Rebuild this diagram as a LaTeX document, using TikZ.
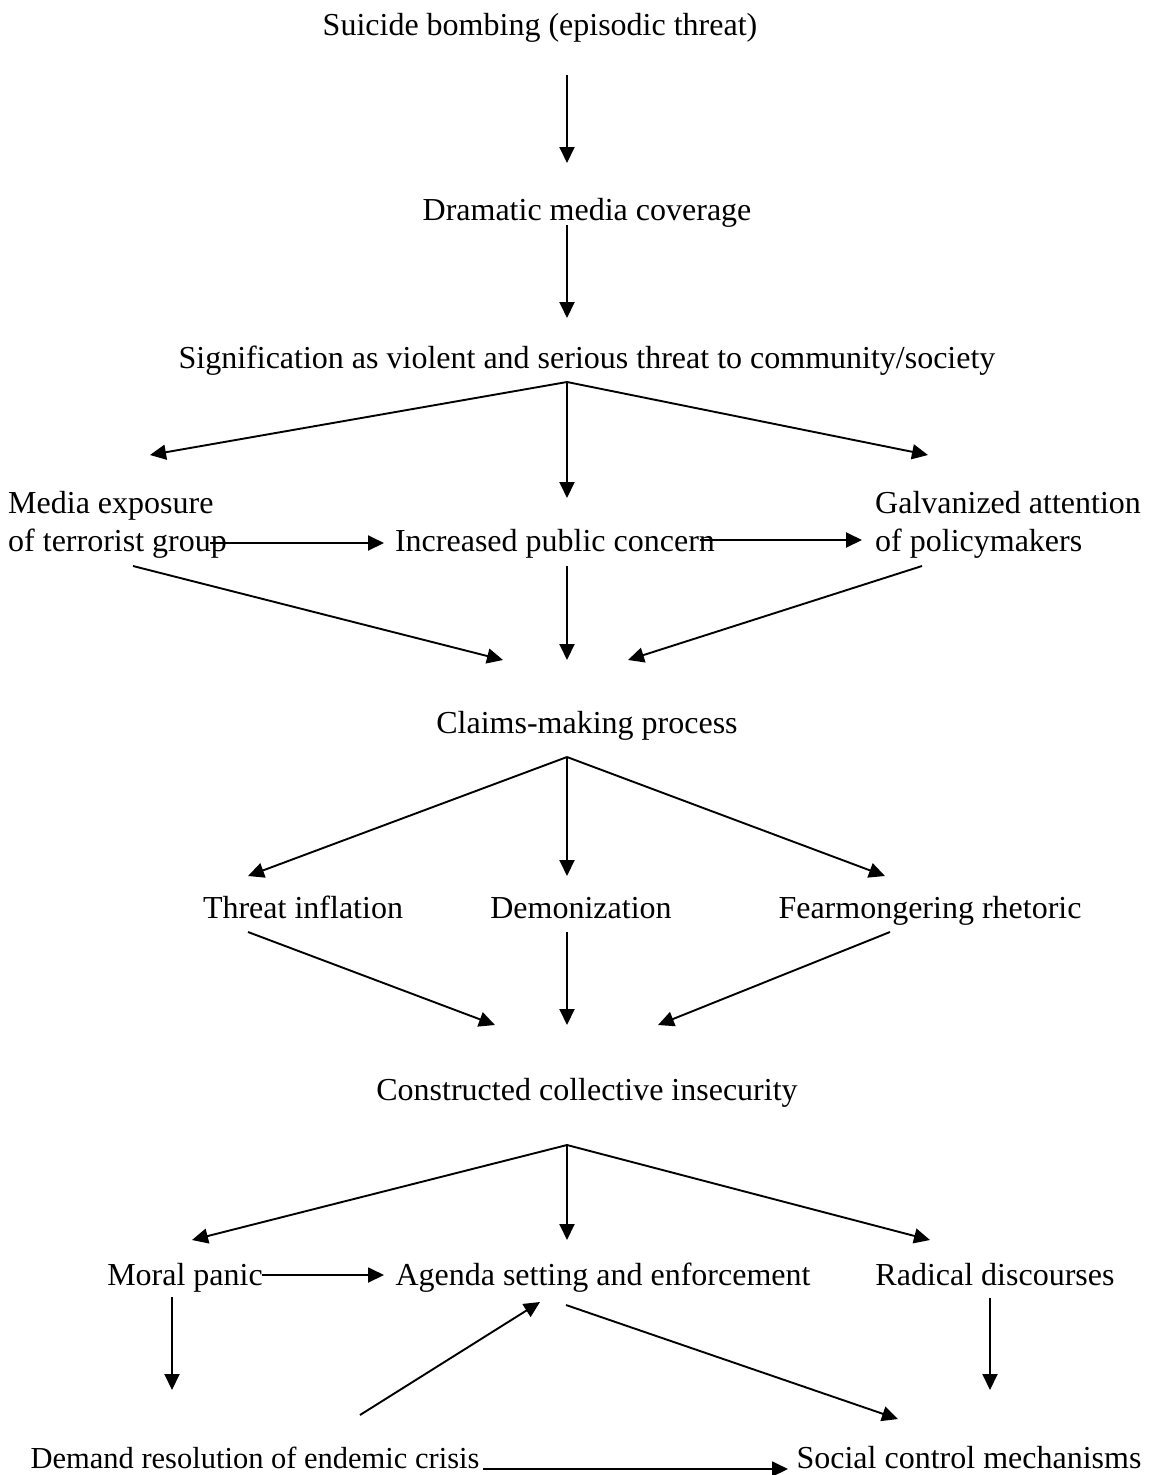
\documentclass[tikz,border=0pt]{standalone}
\usepackage{fontspec}
\setmainfont{Liberation Serif}
\usetikzlibrary{arrows.meta}
\begin{document}
\begin{tikzpicture}[x=1pt,y=-1pt,
lbl/.style={anchor=base,inner sep=0pt,font=\fontsize{32}{38}\selectfont},
lbltwo/.style={anchor=base west,inner sep=0pt,align=left,font=\fontsize{32}{38}\selectfont},
arr/.style={line width=1.9pt,-{Triangle[length=16pt,width=15pt]}}]
\useasboundingbox (0,0) rectangle (1152,1475);
% texts
\node[lbl] (bomb) at (540,35) {Suicide bombing (episodic threat)};
\node[lbl] (media) at (587,220) {Dramatic media coverage};
\node[lbl] (signif) at (587,368) {Signification as violent and serious threat to community/society};
\node[lbltwo] (expos) at (8,551) {Media exposure\\of terrorist group};
\node[lbl] (public) at (555,551) {Increased public concern};
\node[lbltwo] (galv) at (875,551) {Galvanized attention\\of policymakers};
\node[lbl] (claims) at (587,733) {Claims-making process};
\node[lbl] (inflat) at (303,918) {Threat inflation};
\node[lbl] (demon) at (581,918) {Demonization};
\node[lbl] (fear) at (930,918) {Fearmongering rhetoric};
\node[lbl] (insec) at (587,1100) {Constructed collective insecurity};
\node[lbl] (panic) at (185,1285) {Moral panic};
\node[lbl] (agenda) at (603,1285) {Agenda setting and enforcement};
\node[lbl] (radic) at (995,1285) {Radical discourses};
\node[lbl,font=\fontsize{30.5}{38}\selectfont] (demand) at (255,1468) {Demand resolution of endemic crisis};
\node[lbl] (social) at (969,1468) {Social control mechanisms};
% arrow ends
\coordinate (b1) at (567,75);   \coordinate (b2) at (567,163);
\coordinate (m1) at (567,225);  \coordinate (m2) at (567,318);
\coordinate (s0) at (567,382);
\coordinate (s1) at (150,455);  \coordinate (s2) at (567,498);  \coordinate (s3) at (928,455);
\coordinate (e1) at (210,543);  \coordinate (e2) at (384,543);
\coordinate (p1) at (700,540);  \coordinate (p2) at (862,540);
\coordinate (e3) at (133,566);  \coordinate (c1) at (503,660);
\coordinate (p3) at (567,566);  \coordinate (c2) at (567,660);
\coordinate (g3) at (922,566);  \coordinate (c3) at (628,660);
\coordinate (k0) at (567,757);
\coordinate (k1) at (248,876);  \coordinate (k2) at (567,876);  \coordinate (k3) at (885,876);
\coordinate (t1) at (248,932);  \coordinate (i1) at (495,1025);
\coordinate (d1) at (567,932);  \coordinate (i2) at (567,1025);
\coordinate (f1) at (890,932);  \coordinate (i3) at (658,1025);
\coordinate (n0) at (567,1145);
\coordinate (n1) at (192,1240); \coordinate (n2) at (567,1240); \coordinate (n3) at (930,1240);
\coordinate (mp1) at (262,1275); \coordinate (mp2) at (384,1275);
\coordinate (mp3) at (172,1297); \coordinate (dr1) at (172,1390);
\coordinate (dr2) at (360,1415); \coordinate (ag1) at (540,1302);
\coordinate (ag2) at (566,1305); \coordinate (sc1) at (898,1419);
\coordinate (rd1) at (990,1298); \coordinate (sc2) at (990,1390);
\coordinate (dr3) at (483,1469); \coordinate (sc3) at (788,1469);
% connectors
\draw[arr] (b1) -- (b2);
\draw[arr] (m1) -- (m2);
\foreach \t in {s1,s2,s3} \draw[arr] (s0) -- (\t);
\draw[arr] (e1) -- (e2);
\draw[arr] (p1) -- (p2);
\draw[arr] (e3) -- (c1);
\draw[arr] (p3) -- (c2);
\draw[arr] (g3) -- (c3);
\foreach \t in {k1,k2,k3} \draw[arr] (k0) -- (\t);
\draw[arr] (t1) -- (i1);
\draw[arr] (d1) -- (i2);
\draw[arr] (f1) -- (i3);
\foreach \t in {n1,n2,n3} \draw[arr] (n0) -- (\t);
\draw[arr] (mp1) -- (mp2);
\draw[arr] (mp3) -- (dr1);
\draw[arr] (dr2) -- (ag1);
\draw[arr] (ag2) -- (sc1);
\draw[arr] (rd1) -- (sc2);
\draw[arr] (dr3) -- (sc3);
\end{tikzpicture}
\end{document}
